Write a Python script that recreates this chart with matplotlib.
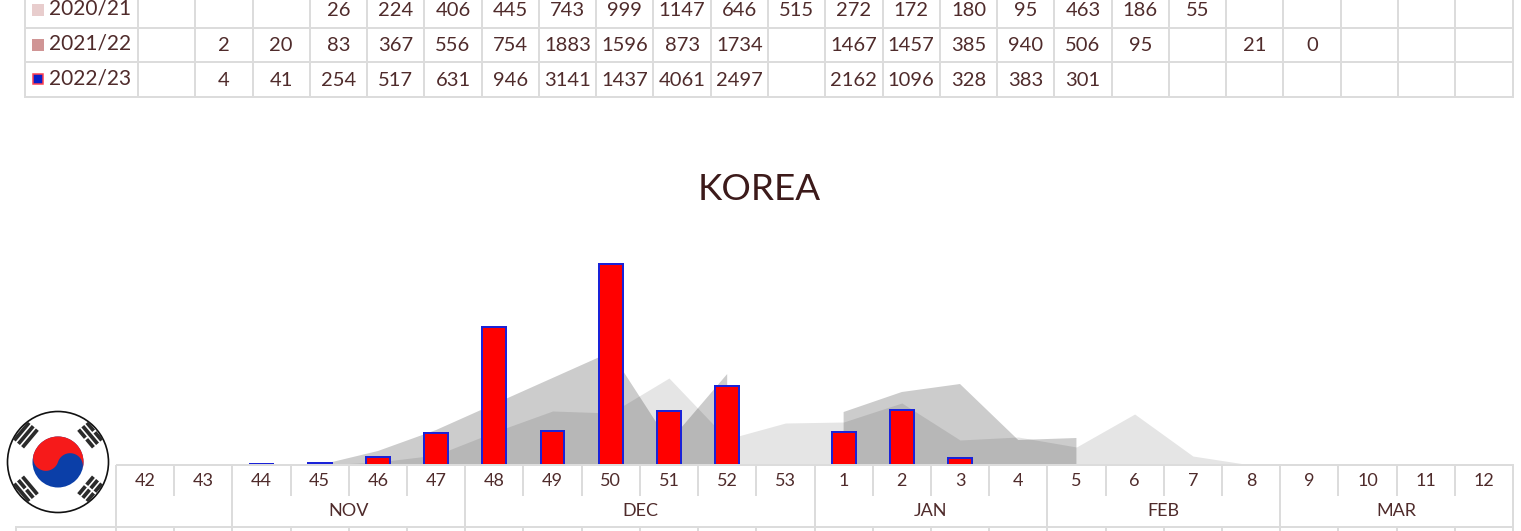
import numpy as np
import matplotlib
matplotlib.use("Agg")
import matplotlib.pyplot as plt
from matplotlib.patches import Circle, Polygon, Rectangle

plt.rcParams['font.family'] = ['Lato', 'DejaVu Sans']

nan = float('nan')
weeks = [42, 43, 44, 45, 46, 47, 48, 49, 50, 51, 52, 53, 1, 2, 3, 4, 5, 6, 7, 8, 9, 10, 11, 12]
months = ['', 'NOV', 'DEC', 'JAN', 'FEB', 'MAR']
month_spans = [2, 4, 6, 4, 4, 4]

season_a = [nan, nan, nan, 0, 3, 10, 33, 54, 52, 87, 26, 42, 43, 62, 25, 28, 18, 51, 9, 0, nan, nan, nan, nan]
season_b = [nan, nan, nan, 0, 14, 35, 61, 87, 113, 23, 91, nan, 53, 73, 81, 25, 27, nan, nan, nan, nan, nan, nan, nan]
season_current = [0, 0, 0.6, 2, 8, 32, 138, 34, 201, 54, 79, 0, 33, 55, 7, 0, 0, 0, 0, 0, 0, 0, 0, 0]

row_labels = ['2020/21', '2021/22', '2022/23']
row_2020 = ['', '', '', '26', '224', '406', '445', '743', '999', '1147', '646', '515', '272', '172', '180',
            '95', '463', '186', '55', '', '', '', '', '']
row_2021 = ['', '2', '20', '83', '367', '556', '754', '1883', '1596', '873', '1734', '', '1467', '1457', '385',
            '940', '506', '95', '', '21', '0', '', '', '']
row_2022 = ['', '4', '41', '254', '517', '631', '946', '3141', '1437', '4061', '2497', '', '2162', '1096', '328',
            '383', '301', '', '', '', '', '', '', '']

W, H = 1521, 531
TXT = '#4f2b2b'
LINE = '#dcdcdc'
LW = 1.44

fig = plt.figure(figsize=(W / 100, H / 100), dpi=100, facecolor='white')

# chart axes
L, R, BASE, TOP = 116, 1513, 465, 200
ax = fig.add_axes([L / W, 1 - BASE / H, (R - L) / W, (BASE - TOP) / H])
ax.set_xlim(-0.5, 23.5)
ax.set_ylim(0, BASE - TOP)
ax.axis('off')
x = np.arange(len(weeks))
a = np.array(season_a)
b = np.array(season_b)
ax.fill_between(x, 0, a, where=~np.isnan(a), color='black', alpha=0.10, lw=0)
ax.fill_between(x, 0, b, where=~np.isnan(b), color='black', alpha=0.20, lw=0)
ax.bar(x, season_current, width=0.41, color='#ff0000', edgecolor='#1a22d8', linewidth=LW,
       zorder=3)

# overlay in pixel units for tables, flag and labels
ov = fig.add_axes([0, 0, 1, 1], facecolor='none')
ov.set_xlim(0, W)
ov.set_ylim(H, 0)
ov.axis('off')


def hl(x0, x1, y, **kw):
    ov.plot([x0, x1], [y, y], color=LINE, lw=LW, solid_capstyle='butt', **kw)


def vl(xv, y0, y1, **kw):
    ov.plot([xv, xv], [y0, y1], color=LINE, lw=LW, solid_capstyle='butt', **kw)


# top table
T0, T1, LAB = 25, 1512.5, 138
cw = (T1 - LAB) / 24
for yy in (27.5, 62, 97):
    hl(T0, T1 + 1, yy)
vl(T0, 0, 98)
for k in range(25):
    vl(LAB + k * cw, 0, 98)

rows = [row_2020, row_2021, row_2022]
cy = [9, 44, 79]
for lab, vals, yy in zip(row_labels, rows, cy):
    ov.text(49, yy - 0.5, lab, ha='left', va='center', fontsize=15, color=TXT)
    for k, v in enumerate(vals):
        if v:
            ov.text(LAB + (k + 0.5) * cw, yy + 1.5, v, ha='center', va='center', fontsize=14.5, color=TXT)

ov.add_patch(Rectangle((32, 4), 12, 12, fc='#e8cdcd', ec='none'))
ov.add_patch(Rectangle((32, 39), 12, 12, fc='#d09595', ec='none'))
ov.add_patch(Rectangle((33, 74), 10, 10, fc='#0a1fc8', ec='#ff4050', lw=1.1))

# title
ov.text(759, 190, 'KOREA', ha='center', va='center', fontsize=26.5, color='#3c1a1a')

# bottom table
wk = (R - L) / 24
hl(L, R + 1, 465)
hl(16, R + 1, 526.5)
vl(16, 526, H)
for k, w in enumerate(weeks):
    ov.text(L + (k + 0.5) * wk, 481, str(w), ha='center', va='center', fontsize=13, color=TXT)
for k in range(25):
    vl(L + k * wk, 465, 496)
    vl(L + k * wk, 526, H)
pos = 0
vl(L, 465, 527)
for m, s in zip(months, month_spans):
    pos2 = pos + s
    vl(L + pos2 * wk, 465, 527)
    if m:
        ov.text(L + (pos + pos2) / 2 * wk, 511.5, m, ha='center', va='center', fontsize=13, color=TXT)
    pos = pos2

# flag
fx, fy, fr = 58, 462, 50.5
ov.add_patch(Circle((fx, fy), fr, fc='white', ec='#111111', lw=1.2))
Rt = 25.5
ov.add_patch(Circle((fx, fy), Rt, fc='#0b3fa8', ec='none'))
t = np.radians(18)
a0 = -t
u = np.array([np.cos(a0), np.sin(a0)])
th1 = np.linspace(a0, a0 + np.pi, 80)
big = np.c_[Rt * np.cos(th1), Rt * np.sin(th1)]
th2 = np.linspace(a0 + np.pi, a0 + 2 * np.pi, 50)
left = -u * Rt / 2 + np.c_[Rt / 2 * np.cos(th2), Rt / 2 * np.sin(th2)]
th3 = np.linspace(a0 + np.pi, a0, 50)
right = u * Rt / 2 + np.c_[Rt / 2 * np.cos(th3), Rt / 2 * np.sin(th3)]
pts = np.vstack([big, left, right])
ov.add_patch(Polygon(np.c_[fx + pts[:, 0], fy - pts[:, 1]], fc='#f61a1a', ec='none'))

trigrams = {
    'ul': (np.radians(140), [0, 0, 0]),
    'ur': (np.radians(40), [1, 0, 1]),
    'll': (np.radians(220), [0, 1, 0]),
    'lr': (np.radians(320), [1, 1, 1]),
}
for ang, pattern in trigrams.values():
    rad = np.array([np.cos(ang), np.sin(ang)])
    tan = np.array([-rad[1], rad[0]])
    for i, broken in enumerate(pattern):
        c = rad * (42 + (i - 1) * 5.4)
        segs = [(-11.5, -1), (1, 11.5)] if broken else [(-11.5, 11.5)]
        for s0, s1 in segs:
            p0 = c + tan * s0
            p1 = c + tan * s1
            ov.plot([fx + p0[0], fx + p1[0]], [fy - p0[1], fy - p1[1]], color='#2b2b2b', lw=2.7,
                    solid_capstyle='butt')

fig.savefig('out.png', dpi=100)
